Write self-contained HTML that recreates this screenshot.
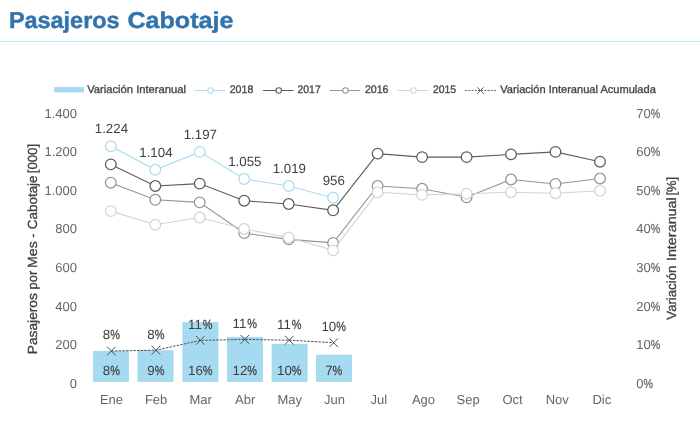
<!DOCTYPE html>
<html><head><meta charset="utf-8"><title>Pasajeros Cabotaje</title>
<style>
html,body{margin:0;padding:0;background:#fff;}
body{width:700px;height:430px;overflow:hidden;font-family:"Liberation Sans",sans-serif;}
svg{display:block;will-change:transform;text-rendering:geometricPrecision;font-family:"Liberation Sans",sans-serif;}
</style></head><body>
<svg width="700" height="430" viewBox="0 0 700 430">
<rect x="0" y="0" width="700" height="430" fill="#fff"/>
<text x="8.9" y="27.9" font-size="22.8" font-weight="bold" fill="#3373ad" stroke="#3373ad" stroke-width="0.45" textLength="110.7" lengthAdjust="spacingAndGlyphs">Pasajeros</text>
<text x="127.4" y="27.9" font-size="22.8" font-weight="bold" fill="#3373ad" stroke="#3373ad" stroke-width="0.45" textLength="106.0" lengthAdjust="spacingAndGlyphs">Cabotaje</text>
<rect x="0" y="40.9" width="700" height="1" fill="#a5f0fa"/>
<rect x="54" y="87.1" width="30" height="5.3" fill="#a6daf1"/>
<text x="87.2" y="93.1" font-size="11" fill="#484848" stroke="#484848" stroke-width="0.35" textLength="98.8" lengthAdjust="spacingAndGlyphs">Variación Interanual</text>
<line x1="194.8" y1="90.5" x2="225.4" y2="90.5" stroke="#a8dcf4" stroke-width="1"/>
<circle cx="210.60000000000002" cy="90.5" r="2.75" fill="#fff" stroke="#a8dcf4" stroke-width="1.1"/>
<text x="229.7" y="93.1" font-size="11" fill="#484848" stroke="#484848" stroke-width="0.35" textLength="23.6" lengthAdjust="spacingAndGlyphs">2018</text>
<line x1="262.9" y1="90.5" x2="293.5" y2="90.5" stroke="#5c5c5c" stroke-width="1"/>
<circle cx="278.7" cy="90.5" r="2.75" fill="#fff" stroke="#5c5c5c" stroke-width="1.1"/>
<text x="297.5" y="93.1" font-size="11" fill="#484848" stroke="#484848" stroke-width="0.35" textLength="23.2" lengthAdjust="spacingAndGlyphs">2017</text>
<line x1="329.7" y1="90.5" x2="360.3" y2="90.5" stroke="#949494" stroke-width="1"/>
<circle cx="345.5" cy="90.5" r="2.75" fill="#fff" stroke="#949494" stroke-width="1.1"/>
<text x="364.9" y="93.1" font-size="11" fill="#484848" stroke="#484848" stroke-width="0.35" textLength="23.6" lengthAdjust="spacingAndGlyphs">2016</text>
<line x1="397.6" y1="90.5" x2="428.20000000000005" y2="90.5" stroke="#d4d4d4" stroke-width="1"/>
<circle cx="413.40000000000003" cy="90.5" r="2.75" fill="#fff" stroke="#d4d4d4" stroke-width="1.1"/>
<text x="432.9" y="93.1" font-size="11" fill="#484848" stroke="#484848" stroke-width="0.35" textLength="23.2" lengthAdjust="spacingAndGlyphs">2015</text>
<line x1="465.2" y1="90.5" x2="496.5" y2="90.5" stroke="#5c5c5c" stroke-width="0.9" stroke-dasharray="2 1.2"/>
<path d="M477.3 87.3 L483.7 93.7 M483.7 87.3 L477.3 93.7" stroke="#5c5c5c" stroke-width="1" fill="none"/>
<text x="500.3" y="93.1" font-size="11" fill="#484848" stroke="#484848" stroke-width="0.35" textLength="155.5" lengthAdjust="spacingAndGlyphs">Variación Interanual Acumulada</text>
<text x="77" y="117.7" font-size="13" fill="#666666" text-anchor="end">1.400</text>
<text x="77" y="156.3" font-size="13" fill="#666666" text-anchor="end">1.200</text>
<text x="77" y="194.8" font-size="13" fill="#666666" text-anchor="end">1.000</text>
<text x="77" y="233.4" font-size="13" fill="#666666" text-anchor="end">800</text>
<text x="77" y="272.0" font-size="13" fill="#666666" text-anchor="end">600</text>
<text x="77" y="310.6" font-size="13" fill="#666666" text-anchor="end">400</text>
<text x="77" y="349.1" font-size="13" fill="#666666" text-anchor="end">200</text>
<text x="77" y="387.7" font-size="13" fill="#666666" text-anchor="end">0</text>
<text x="636.20" y="387.7" font-size="13" fill="#666666">0</text>
<text x="643.43" y="387.7" font-size="13" fill="#666666" stroke="#666666" stroke-width="0.25" textLength="9.52" lengthAdjust="spacingAndGlyphs">%</text>
<text x="636.20" y="349.1" font-size="13" fill="#666666">10</text>
<text x="650.66" y="349.1" font-size="13" fill="#666666" stroke="#666666" stroke-width="0.25" textLength="9.52" lengthAdjust="spacingAndGlyphs">%</text>
<text x="636.20" y="310.6" font-size="13" fill="#666666">20</text>
<text x="650.66" y="310.6" font-size="13" fill="#666666" stroke="#666666" stroke-width="0.25" textLength="9.52" lengthAdjust="spacingAndGlyphs">%</text>
<text x="636.20" y="272.0" font-size="13" fill="#666666">30</text>
<text x="650.66" y="272.0" font-size="13" fill="#666666" stroke="#666666" stroke-width="0.25" textLength="9.52" lengthAdjust="spacingAndGlyphs">%</text>
<text x="636.20" y="233.4" font-size="13" fill="#666666">40</text>
<text x="650.66" y="233.4" font-size="13" fill="#666666" stroke="#666666" stroke-width="0.25" textLength="9.52" lengthAdjust="spacingAndGlyphs">%</text>
<text x="636.20" y="194.8" font-size="13" fill="#666666">50</text>
<text x="650.66" y="194.8" font-size="13" fill="#666666" stroke="#666666" stroke-width="0.25" textLength="9.52" lengthAdjust="spacingAndGlyphs">%</text>
<text x="636.20" y="156.3" font-size="13" fill="#666666">60</text>
<text x="650.66" y="156.3" font-size="13" fill="#666666" stroke="#666666" stroke-width="0.25" textLength="9.52" lengthAdjust="spacingAndGlyphs">%</text>
<text x="636.20" y="117.7" font-size="13" fill="#666666">70</text>
<text x="650.66" y="117.7" font-size="13" fill="#666666" stroke="#666666" stroke-width="0.25" textLength="9.52" lengthAdjust="spacingAndGlyphs">%</text>
<text transform="translate(36.6,353.9) rotate(-90)" x="-0.4" y="0" font-size="13.2" fill="#404040" stroke="#404040" stroke-width="0.3" textLength="61.2" lengthAdjust="spacingAndGlyphs">Pasajeros</text>
<text transform="translate(36.6,353.9) rotate(-90)" x="64.5" y="0" font-size="13.2" fill="#404040" stroke="#404040" stroke-width="0.3" textLength="18.6" lengthAdjust="spacingAndGlyphs">por</text>
<text transform="translate(36.6,353.9) rotate(-90)" x="86.0" y="0" font-size="13.2" fill="#404040" stroke="#404040" stroke-width="0.3" textLength="26.6" lengthAdjust="spacingAndGlyphs">Mes</text>
<text transform="translate(36.6,353.9) rotate(-90)" x="116.2" y="0" font-size="13.2" fill="#404040" stroke="#404040" stroke-width="0.3" textLength="4.3" lengthAdjust="spacingAndGlyphs">-</text>
<text transform="translate(36.6,353.9) rotate(-90)" x="124.7" y="0" font-size="13.2" fill="#404040" stroke="#404040" stroke-width="0.3" textLength="53.8" lengthAdjust="spacingAndGlyphs">Cabotaje</text>
<text transform="translate(36.6,353.9) rotate(-90)" x="180.7" y="0" font-size="13.2" fill="#404040" stroke="#404040" stroke-width="0.3" textLength="29.3" lengthAdjust="spacingAndGlyphs">[000]</text>
<text transform="translate(675.8,319.5) rotate(-90)" x="-0.2" y="0" font-size="13.2" fill="#404040" stroke="#404040" stroke-width="0.3" textLength="54.0" lengthAdjust="spacingAndGlyphs">Variación</text>
<text transform="translate(675.8,319.5) rotate(-90)" x="58.4" y="0" font-size="13.2" fill="#404040" stroke="#404040" stroke-width="0.3" textLength="63.9" lengthAdjust="spacingAndGlyphs">Interanual</text>
<text transform="translate(675.8,319.5) rotate(-90)" x="123.9" y="0" font-size="13.2" fill="#404040" stroke="#404040" stroke-width="0.3" textLength="18.8" lengthAdjust="spacingAndGlyphs">[%]</text>
<text x="111.5" y="404.3" font-size="13" fill="#666666" text-anchor="middle">Ene</text>
<text x="156.1" y="404.3" font-size="13" fill="#666666" text-anchor="middle">Feb</text>
<text x="200.6" y="404.3" font-size="13" fill="#666666" text-anchor="middle">Mar</text>
<text x="245.2" y="404.3" font-size="13" fill="#666666" text-anchor="middle">Abr</text>
<text x="289.8" y="404.3" font-size="13" fill="#666666" text-anchor="middle">May</text>
<text x="334.4" y="404.3" font-size="13" fill="#666666" text-anchor="middle">Jun</text>
<text x="378.9" y="404.3" font-size="13" fill="#666666" text-anchor="middle">Jul</text>
<text x="423.5" y="404.3" font-size="13" fill="#666666" text-anchor="middle">Ago</text>
<text x="468.1" y="404.3" font-size="13" fill="#666666" text-anchor="middle">Sep</text>
<text x="512.6" y="404.3" font-size="13" fill="#666666" text-anchor="middle">Oct</text>
<text x="557.2" y="404.3" font-size="13" fill="#666666" text-anchor="middle">Nov</text>
<text x="601.8" y="404.3" font-size="13" fill="#666666" text-anchor="middle">Dic</text>
<rect x="93.0" y="351.0" width="36" height="30.9" fill="#a6daf1"/>
<rect x="137.5" y="350.2" width="36" height="31.7" fill="#a6daf1"/>
<rect x="182.4" y="322.1" width="36" height="59.8" fill="#a6daf1"/>
<rect x="227.0" y="336.9" width="36" height="45.0" fill="#a6daf1"/>
<rect x="271.6" y="343.9" width="36" height="38.0" fill="#a6daf1"/>
<rect x="316.0" y="354.7" width="36" height="27.2" fill="#a6daf1"/>
<polyline points="110.8,146.3 155.3,169.8 199.7,151.9 244.2,179.0 288.7,186.0 333.1,197.8" fill="none" stroke="#a8dcf4" stroke-width="1.1"/>
<circle cx="110.8" cy="146.3" r="5.35" fill="#fff" stroke="#a8dcf4" stroke-width="1.25"/>
<circle cx="155.3" cy="169.8" r="5.35" fill="#fff" stroke="#a8dcf4" stroke-width="1.25"/>
<circle cx="199.7" cy="151.9" r="5.35" fill="#fff" stroke="#a8dcf4" stroke-width="1.25"/>
<circle cx="244.2" cy="179.0" r="5.35" fill="#fff" stroke="#a8dcf4" stroke-width="1.25"/>
<circle cx="288.7" cy="186.0" r="5.35" fill="#fff" stroke="#a8dcf4" stroke-width="1.25"/>
<circle cx="333.1" cy="197.8" r="5.35" fill="#fff" stroke="#a8dcf4" stroke-width="1.25"/>
<polyline points="110.8,164.4 155.3,186.0 199.7,183.6 244.2,200.7 288.7,204.0 333.1,210.3 377.6,153.6 422.1,157.1 466.6,157.1 511.0,154.4 555.5,151.9 600.0,161.7" fill="none" stroke="#5c5c5c" stroke-width="1.1"/>
<circle cx="110.8" cy="164.4" r="5.35" fill="#fff" stroke="#5c5c5c" stroke-width="1.25"/>
<circle cx="155.3" cy="186.0" r="5.35" fill="#fff" stroke="#5c5c5c" stroke-width="1.25"/>
<circle cx="199.7" cy="183.6" r="5.35" fill="#fff" stroke="#5c5c5c" stroke-width="1.25"/>
<circle cx="244.2" cy="200.7" r="5.35" fill="#fff" stroke="#5c5c5c" stroke-width="1.25"/>
<circle cx="288.7" cy="204.0" r="5.35" fill="#fff" stroke="#5c5c5c" stroke-width="1.25"/>
<circle cx="333.1" cy="210.3" r="5.35" fill="#fff" stroke="#5c5c5c" stroke-width="1.25"/>
<circle cx="377.6" cy="153.6" r="5.35" fill="#fff" stroke="#5c5c5c" stroke-width="1.25"/>
<circle cx="422.1" cy="157.1" r="5.35" fill="#fff" stroke="#5c5c5c" stroke-width="1.25"/>
<circle cx="466.6" cy="157.1" r="5.35" fill="#fff" stroke="#5c5c5c" stroke-width="1.25"/>
<circle cx="511.0" cy="154.4" r="5.35" fill="#fff" stroke="#5c5c5c" stroke-width="1.25"/>
<circle cx="555.5" cy="151.9" r="5.35" fill="#fff" stroke="#5c5c5c" stroke-width="1.25"/>
<circle cx="600.0" cy="161.7" r="5.35" fill="#fff" stroke="#5c5c5c" stroke-width="1.25"/>
<polyline points="110.8,182.7 155.3,199.8 199.7,202.4 244.2,233.1 288.7,239.4 333.1,242.9 377.6,186.0 422.1,188.8 466.6,197.3 511.0,179.5 555.5,184.0 600.0,178.5" fill="none" stroke="#949494" stroke-width="1.1"/>
<circle cx="110.8" cy="182.7" r="5.35" fill="#fff" stroke="#949494" stroke-width="1.25"/>
<circle cx="155.3" cy="199.8" r="5.35" fill="#fff" stroke="#949494" stroke-width="1.25"/>
<circle cx="199.7" cy="202.4" r="5.35" fill="#fff" stroke="#949494" stroke-width="1.25"/>
<circle cx="244.2" cy="233.1" r="5.35" fill="#fff" stroke="#949494" stroke-width="1.25"/>
<circle cx="288.7" cy="239.4" r="5.35" fill="#fff" stroke="#949494" stroke-width="1.25"/>
<circle cx="333.1" cy="242.9" r="5.35" fill="#fff" stroke="#949494" stroke-width="1.25"/>
<circle cx="377.6" cy="186.0" r="5.35" fill="#fff" stroke="#949494" stroke-width="1.25"/>
<circle cx="422.1" cy="188.8" r="5.35" fill="#fff" stroke="#949494" stroke-width="1.25"/>
<circle cx="466.6" cy="197.3" r="5.35" fill="#fff" stroke="#949494" stroke-width="1.25"/>
<circle cx="511.0" cy="179.5" r="5.35" fill="#fff" stroke="#949494" stroke-width="1.25"/>
<circle cx="555.5" cy="184.0" r="5.35" fill="#fff" stroke="#949494" stroke-width="1.25"/>
<circle cx="600.0" cy="178.5" r="5.35" fill="#fff" stroke="#949494" stroke-width="1.25"/>
<polyline points="110.8,211.1 155.3,224.8 199.7,217.5 244.2,229.0 288.7,237.5 333.1,250.4 377.6,192.3 422.1,194.9 466.6,193.7 511.0,192.2 555.5,193.2 600.0,190.8" fill="none" stroke="#d4d4d4" stroke-width="1.1"/>
<circle cx="110.8" cy="211.1" r="5.35" fill="#fff" stroke="#d4d4d4" stroke-width="1.25"/>
<circle cx="155.3" cy="224.8" r="5.35" fill="#fff" stroke="#d4d4d4" stroke-width="1.25"/>
<circle cx="199.7" cy="217.5" r="5.35" fill="#fff" stroke="#d4d4d4" stroke-width="1.25"/>
<circle cx="244.2" cy="229.0" r="5.35" fill="#fff" stroke="#d4d4d4" stroke-width="1.25"/>
<circle cx="288.7" cy="237.5" r="5.35" fill="#fff" stroke="#d4d4d4" stroke-width="1.25"/>
<circle cx="333.1" cy="250.4" r="5.35" fill="#fff" stroke="#d4d4d4" stroke-width="1.25"/>
<circle cx="377.6" cy="192.3" r="5.35" fill="#fff" stroke="#d4d4d4" stroke-width="1.25"/>
<circle cx="422.1" cy="194.9" r="5.35" fill="#fff" stroke="#d4d4d4" stroke-width="1.25"/>
<circle cx="466.6" cy="193.7" r="5.35" fill="#fff" stroke="#d4d4d4" stroke-width="1.25"/>
<circle cx="511.0" cy="192.2" r="5.35" fill="#fff" stroke="#d4d4d4" stroke-width="1.25"/>
<circle cx="555.5" cy="193.2" r="5.35" fill="#fff" stroke="#d4d4d4" stroke-width="1.25"/>
<circle cx="600.0" cy="190.8" r="5.35" fill="#fff" stroke="#d4d4d4" stroke-width="1.25"/>
<polyline points="111.4,351.0 155.9,350.2 200.3,340.4 244.8,339.4 289.3,340.2 333.8,342.7" fill="none" stroke="#4a4a4a" stroke-width="0.95" stroke-dasharray="2.5 1.15"/>
<path d="M107.1 346.6 L115.7 355.4 M115.7 346.6 L107.1 355.4" stroke="#4a4a4a" stroke-width="0.95" fill="none"/>
<path d="M151.6 345.8 L160.2 354.6 M160.2 345.8 L151.6 354.6" stroke="#4a4a4a" stroke-width="0.95" fill="none"/>
<path d="M196.0 336.0 L204.6 344.8 M204.6 336.0 L196.0 344.8" stroke="#4a4a4a" stroke-width="0.95" fill="none"/>
<path d="M240.5 335.0 L249.1 343.8 M249.1 335.0 L240.5 343.8" stroke="#4a4a4a" stroke-width="0.95" fill="none"/>
<path d="M285.0 335.8 L293.6 344.6 M293.6 335.8 L285.0 344.6" stroke="#4a4a4a" stroke-width="0.95" fill="none"/>
<path d="M329.4 338.3 L338.1 347.1 M338.1 338.3 L329.4 347.1" stroke="#4a4a4a" stroke-width="0.95" fill="none"/>
<text x="111.4" y="133.1" font-size="13.3" fill="#404040" text-anchor="middle">1.224</text>
<text x="102.83" y="339.3" font-size="13.3" fill="#404040">8</text>
<text x="110.23" y="339.3" font-size="13.3" fill="#404040" stroke="#404040" stroke-width="0.25" textLength="9.74" lengthAdjust="spacingAndGlyphs">%</text>
<text x="102.83" y="374.5" font-size="13.3" fill="#404040">8</text>
<text x="110.23" y="374.5" font-size="13.3" fill="#404040" stroke="#404040" stroke-width="0.25" textLength="9.74" lengthAdjust="spacingAndGlyphs">%</text>
<text x="155.9" y="156.6" font-size="13.3" fill="#404040" text-anchor="middle">1.104</text>
<text x="147.30" y="338.5" font-size="13.3" fill="#404040">8</text>
<text x="154.70" y="338.5" font-size="13.3" fill="#404040" stroke="#404040" stroke-width="0.25" textLength="9.74" lengthAdjust="spacingAndGlyphs">%</text>
<text x="147.30" y="374.5" font-size="13.3" fill="#404040">9</text>
<text x="154.70" y="374.5" font-size="13.3" fill="#404040" stroke="#404040" stroke-width="0.25" textLength="9.74" lengthAdjust="spacingAndGlyphs">%</text>
<text x="200.3" y="138.7" font-size="13.3" fill="#404040" text-anchor="middle">1.197</text>
<text x="188.07" y="328.7" font-size="13.3" fill="#404040">11</text>
<text x="202.87" y="328.7" font-size="13.3" fill="#404040" stroke="#404040" stroke-width="0.25" textLength="9.74" lengthAdjust="spacingAndGlyphs">%</text>
<text x="188.07" y="374.5" font-size="13.3" fill="#404040">16</text>
<text x="202.87" y="374.5" font-size="13.3" fill="#404040" stroke="#404040" stroke-width="0.25" textLength="9.74" lengthAdjust="spacingAndGlyphs">%</text>
<text x="244.8" y="165.8" font-size="13.3" fill="#404040" text-anchor="middle">1.055</text>
<text x="232.54" y="327.7" font-size="13.3" fill="#404040">11</text>
<text x="247.34" y="327.7" font-size="13.3" fill="#404040" stroke="#404040" stroke-width="0.25" textLength="9.74" lengthAdjust="spacingAndGlyphs">%</text>
<text x="232.54" y="374.5" font-size="13.3" fill="#404040">12</text>
<text x="247.34" y="374.5" font-size="13.3" fill="#404040" stroke="#404040" stroke-width="0.25" textLength="9.74" lengthAdjust="spacingAndGlyphs">%</text>
<text x="289.3" y="172.8" font-size="13.3" fill="#404040" text-anchor="middle">1.019</text>
<text x="277.01" y="328.5" font-size="13.3" fill="#404040">11</text>
<text x="291.81" y="328.5" font-size="13.3" fill="#404040" stroke="#404040" stroke-width="0.25" textLength="9.74" lengthAdjust="spacingAndGlyphs">%</text>
<text x="277.01" y="374.5" font-size="13.3" fill="#404040">10</text>
<text x="291.81" y="374.5" font-size="13.3" fill="#404040" stroke="#404040" stroke-width="0.25" textLength="9.74" lengthAdjust="spacingAndGlyphs">%</text>
<text x="333.8" y="184.6" font-size="13.3" fill="#404040" text-anchor="middle">956</text>
<text x="321.48" y="331.0" font-size="13.3" fill="#404040">10</text>
<text x="336.28" y="331.0" font-size="13.3" fill="#404040" stroke="#404040" stroke-width="0.25" textLength="9.74" lengthAdjust="spacingAndGlyphs">%</text>
<text x="325.18" y="374.5" font-size="13.3" fill="#404040">7</text>
<text x="332.58" y="374.5" font-size="13.3" fill="#404040" stroke="#404040" stroke-width="0.25" textLength="9.74" lengthAdjust="spacingAndGlyphs">%</text>
</svg>
</body></html>
